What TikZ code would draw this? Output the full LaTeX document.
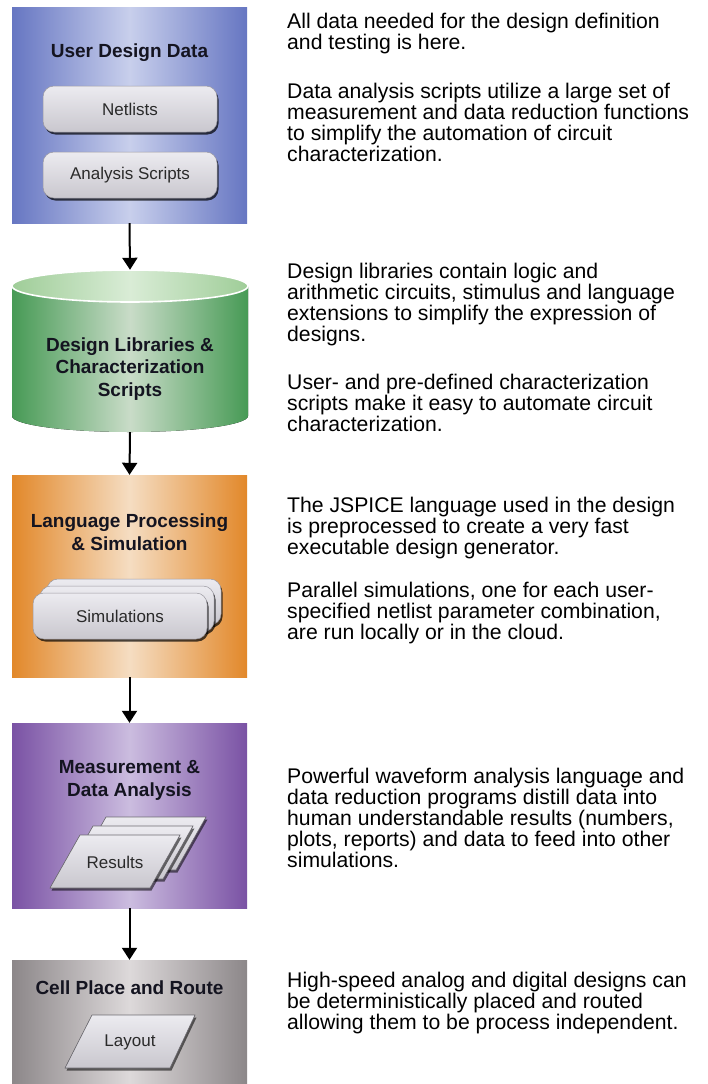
\documentclass[tikz,border=0pt]{standalone}
\usepackage{fontspec}
\setmainfont{Liberation Sans}
\usetikzlibrary{arrows.meta,shadows}

\definecolor{blueedge}{HTML}{6676C2}
\definecolor{bluemid}{HTML}{C8CFEC}
\definecolor{greenedge}{HTML}{479A55}
\definecolor{greenmid}{HTML}{C9DCC8}
\definecolor{greentopedge}{HTML}{9FCD98}
\definecolor{greentopmid}{HTML}{D9ECD6}
\definecolor{orangeedge}{HTML}{E2882A}
\definecolor{orangemid}{HTML}{F5DDC2}
\definecolor{purpleedge}{HTML}{7A52A4}
\definecolor{purplemid}{HTML}{CBBCDF}
\definecolor{grayedge}{HTML}{8C8789}
\definecolor{graymid}{HTML}{DDD9DA}
\definecolor{titlecol}{HTML}{141420}
\definecolor{pilltop}{HTML}{ECEBF0}
\definecolor{pillbot}{HTML}{C9C7CE}
\definecolor{pilledge}{HTML}{9A98A0}
\definecolor{pilltext}{HTML}{2A2A2A}
\definecolor{cardedge}{HTML}{6E6C72}

% multi-line nodes are anchored at the baseline of their last line
\tikzset{
  stage/.style={rectangle, inner sep=0pt, minimum width=235pt},
  title/.style={font=\fontsize{19}{22.5}\selectfont\bfseries, text=titlecol,
    align=center, inner sep=0pt, anchor=base},
  desc/.style={font=\fontsize{21.2}{21}\selectfont, text=black, align=left,
    anchor=base west, inner sep=0pt},
  pill/.style={rectangle, rounded corners=11pt, minimum width=174pt,
    minimum height=46pt, inner sep=0pt, top color=pilltop, bottom color=pillbot,
    draw=pilledge, line width=0.5pt, font=\fontsize{17}{20}\selectfont,
    text=pilltext,
    drop shadow={shadow xshift=1.5pt, shadow yshift=-2.5pt, fill=black, opacity=0.7}},
  card/.style={draw=cardedge, line width=0.6pt, top color=pilltop, bottom color=pillbot},
  cardshadow/.style={fill=black, opacity=0.55},
  cardtext/.style={font=\fontsize{17}{20}\selectfont, text=pilltext, inner sep=0pt},
  flow/.style={line width=2pt, -{Triangle[width=15pt,length=12pt]}}
}

\begin{document}
\begin{tikzpicture}[x=1pt,y=-1pt]
\useasboundingbox[fill=white] (0,0) rectangle (707,1084);

% ---- User design data
\node[stage, minimum height=216pt, left color=blueedge, right color=blueedge,
      middle color=bluemid] (udd) at (129.5,115) {};
\node[title] (uddtitle) at (129.5,57) {User Design Data};
\node[pill] (netlists) at (130,109) {Netlists};
\node[pill] (scripts) at (130,175) {Analysis Scripts};

% ---- Design libraries (cylinder)
\node[inner sep=0pt, minimum width=236pt, minimum height=162pt] (lib) at (130,351) {};
\fill[left color=greenedge, right color=greenedge, middle color=greenmid]
  (12,286) -- (12,416) arc[start angle=180, end angle=360, x radius=118pt, y radius=16pt]
  -- (248,286) arc[start angle=0, end angle=180, x radius=118pt, y radius=16pt] -- cycle;
\draw[white, line width=1.6pt, left color=greentopedge, right color=greentopedge,
      middle color=greentopmid] (130,286) ellipse [x radius=118pt, y radius=16pt];
\node[title] (libtitle) at (130,396) {Design Libraries \&\\Characterization\\Scripts};

% ---- Language processing and simulation
\node[stage, minimum height=202pt, left color=orangeedge, right color=orangeedge,
      middle color=orangemid] (lps) at (129.5,576) {};
\node[title] (lpstitle) at (129.5,550) {Language Processing\\\& Simulation};
\node[pill] (sim3) at (134,602) {};
\node[pill] (sim2) at (127,609) {};
\node[pill] (sim1) at (120,616) {Simulations};

% ---- Measurement and data analysis
\node[stage, minimum height=185pt, left color=purpleedge, right color=purpleedge,
      middle color=purplemid] (mda) at (129.5,815.5) {};
\node[title] (mdatitle) at (129.5,796) {Measurement \&\\Data Analysis};
\foreach \dx/\dy in {26/-18, 13/-9, 0/0}{
  \begin{scope}[shift={(\dx,\dy)}]
    \fill[cardshadow] (51.5,890.5) -- (151.5,890.5) -- (181.5,837.5) -- (81.5,837.5) -- cycle;
    \filldraw[card] (50,888) -- (150,888) -- (180,835) -- (80,835) -- cycle;
  \end{scope}
}
\node[cardtext] (results) at (115,862) {Results};

% ---- Cell place and route
\node[stage, minimum height=124pt, left color=grayedge, right color=grayedge,
      middle color=graymid] (cpr) at (129.5,1022) {};
\node[title] (cprtitle) at (129.5,994) {Cell Place and Route};
\fill[cardshadow] (66.5,1070.5) -- (171.5,1070.5) -- (196.5,1017.5) -- (93.5,1017.5) -- cycle;
\filldraw[card] (65,1068) -- (170,1068) -- (195,1015) -- (92,1015) -- cycle;
\node[cardtext] (layout) at (130,1042) {Layout};

% ---- flow arrows
\draw[flow] (udd.south) -- (lib.north);
\draw[flow] (lib.south) -- (lps.north);
\draw[flow] (lps.south) -- (mda.north);
\draw[flow] (mda.south) -- (cpr.north);

% ---- descriptions
\node[desc] (d1) at (287,49.5) {All data needed for the design definition\\and testing is here.};
\node[desc] (d2) at (287,161.5) {Data analysis scripts utilize a large set of\\measurement and data reduction functions\\to simplify the automation of circuit\\characterization.};
\node[desc] (d3) at (287,341.5) {Design libraries contain logic and\\arithmetic circuits, stimulus and language\\extensions to simplify the expression of\\designs.};
\node[desc] (d4) at (287,431.5) {User- and pre-defined characterization\\scripts make it easy to automate circuit\\characterization.};
\node[desc] (d5) at (287,554.5) {The JSPICE language used in the design\\is preprocessed to create a very fast\\executable design generator.};
\node[desc] (d6) at (287,639.5) {Parallel simulations, one for each user-\\specified netlist parameter combination,\\are run locally or in the cloud.};
\node[desc] (d7) at (287,867.5) {Powerful waveform analysis language and\\data reduction programs distill data into\\human understandable results (numbers,\\plots, reports) and data to feed into other\\simulations.};
\node[desc] (d8) at (287,1029.5) {High-speed analog and digital designs can\\be deterministically placed and routed\\allowing them to be process independent.};
\end{tikzpicture}
\end{document}
